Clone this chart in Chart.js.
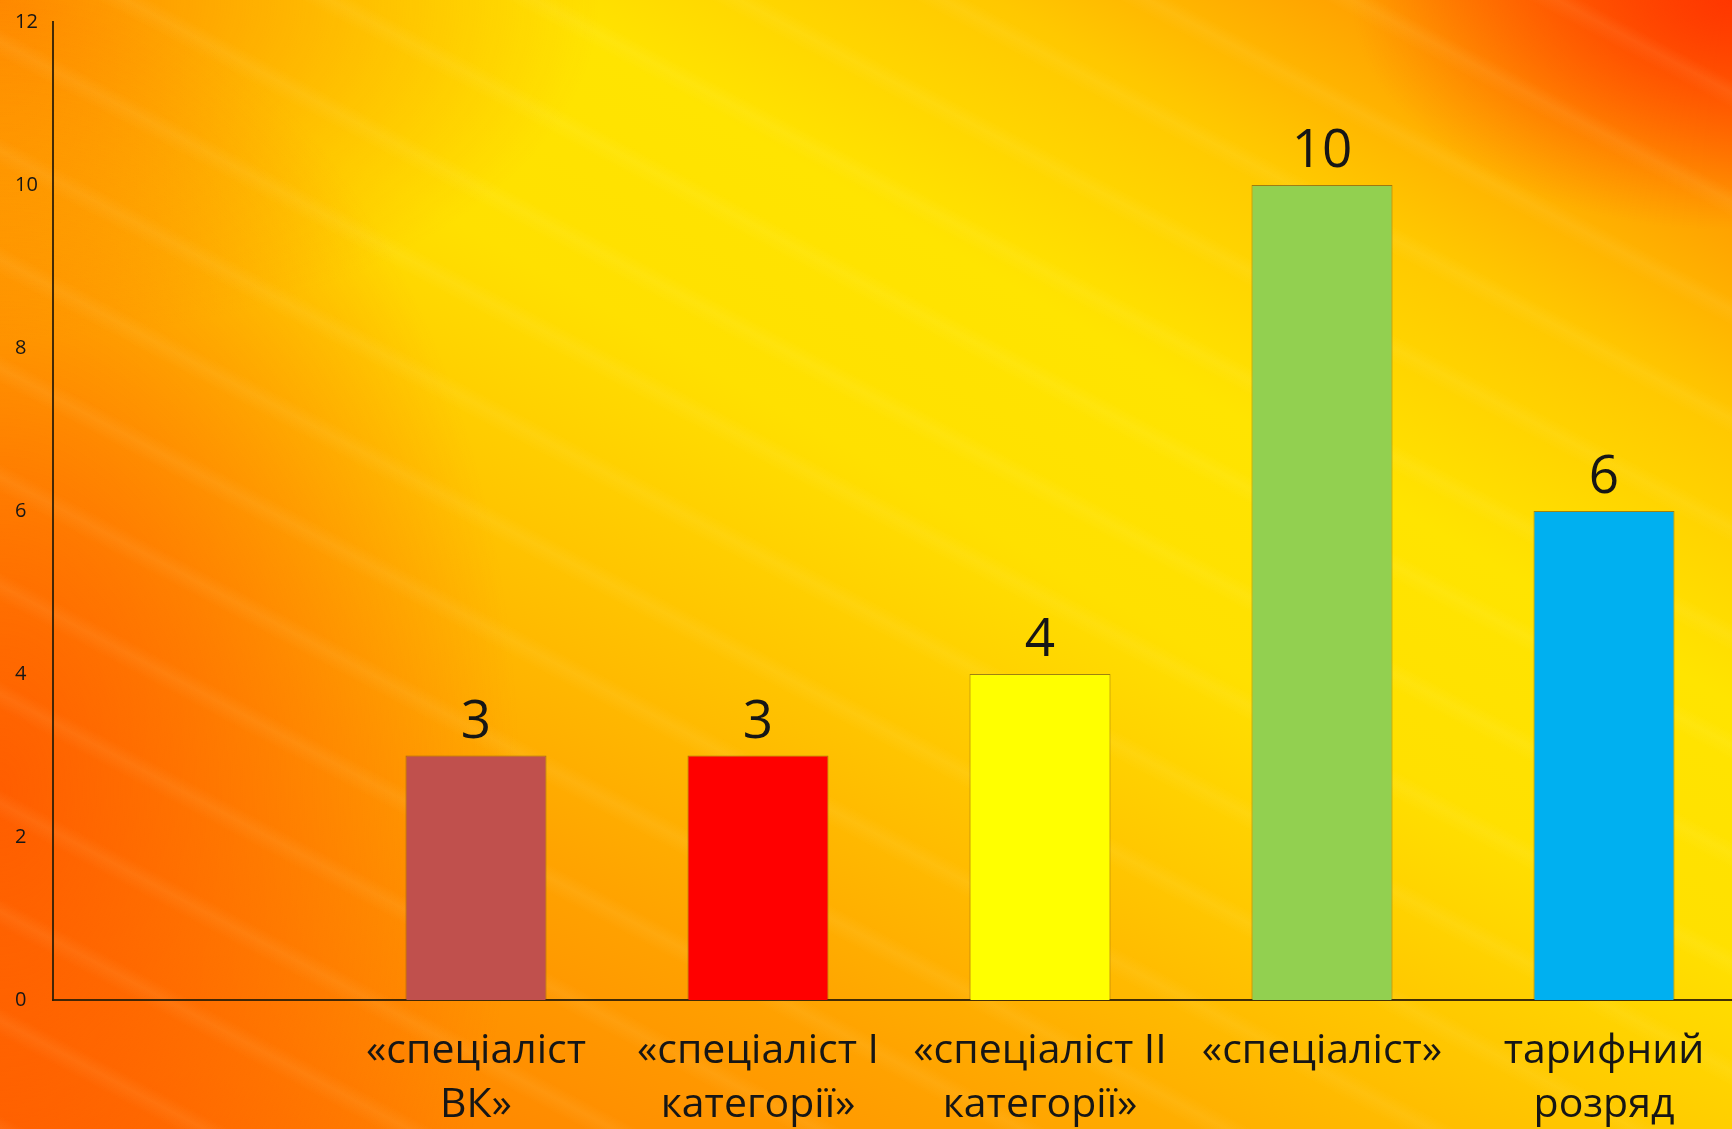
<!DOCTYPE html>
<html lang="uk">
<head>
<meta charset="utf-8">
<title>Кваліфікаційні категорії</title>
<script src="https://cdn.jsdelivr.net/npm/chart.js@4/dist/chart.umd.min.js"></script>
<style>
  html, body {
    margin: 0;
    width: 1732px;
    height: 1129px;
    overflow: hidden;
  }
  body {
    background:
      repeating-linear-gradient(208deg, rgba(255,255,200,0) 0px, rgba(255,255,200,0) 70px, rgba(255,250,190,0.07) 82px, rgba(255,255,200,0) 96px),
      radial-gradient(ellipse 520px 820px at 0% 70%, rgba(255,85,0,0.85), rgba(255,85,0,0) 100%),
      radial-gradient(ellipse 380px 230px at 100% 0%, rgba(255,50,0,0.9), rgba(255,50,0,0) 100%),
      radial-gradient(ellipse 600px 340px at 0% 0%, rgba(255,110,0,0.75), rgba(255,110,0,0) 100%),
      linear-gradient(210deg, #ff6000 0%, #ffa000 10%, #ffc800 20%, #ffe400 33%, #ffe000 45%, #ffc400 58%, #ffa400 72%, #ff8a00 86%, #ff6c00 100%);
  }
  .wrap {
    position: absolute;
    left: 0;
    top: 0;
    width: 1745px;
    height: 1129px;
  }
</style>
</head>
<body>
<div class="wrap"><canvas id="chart"></canvas></div>
<script>
// категорії (перша порожня, як на слайді)
const categories = [
  '',
  ['«спеціаліст', 'ВК»'],
  ['«спеціаліст І', 'категорії»'],
  ['«спеціаліст ІІ', 'категорії»'],
  ['«спеціаліст»'],
  ['тарифний', 'розряд'],
];
const values    = [null, 3, 3, 4, 10, 6];
const barColors = ['#ffffff', '#c0504d', '#ff0000', '#ffff00', '#92d050', '#00b0f0'];
const yTicks    = [0, 2, 4, 6, 8, 10, 12];

const TEXT = '#161616';
const AXIS = 'rgba(45,30,5,0.9)';

// підписи значень над стовпцями
const valueLabels = {
  id: 'valueLabels',
  afterDatasetsDraw(chart) {
    const ctx  = chart.ctx;
    const meta = chart.getDatasetMeta(0);
    ctx.save();
    ctx.font         = '53px "Open Sans"';
    ctx.fillStyle    = TEXT;
    ctx.textAlign    = 'center';
    ctx.textBaseline = 'alphabetic';
    meta.data.forEach((bar, i) => {
      if (values[i] == null) return;
      ctx.fillText(String(values[i]), bar.x, bar.y - 18);
    });
    ctx.restore();
  },
};

new Chart(document.getElementById('chart'), {
  type: 'bar',
  data: {
    labels: categories,
    datasets: [{
      data:            values,
      backgroundColor: barColors,
      borderColor:     'rgba(80,60,30,0.55)',
      borderWidth:     1,
      categoryPercentage: 1,
      barPercentage:   0.5,
    }],
  },
  options: {
    responsive:          true,
    maintainAspectRatio: false,
    animation:           false,
    layout: { padding: { left: 15, top: 22, right: 0, bottom: 0 } },
    plugins: {
      legend:  { display: false },
      tooltip: { enabled: false },
    },
    scales: {
      x: {
        grid:   { display: false, drawTicks: false },
        border: { display: true, color: AXIS, width: 2 },
        ticks: {
          color: TEXT,
          padding: 24,
          maxRotation: 0,
          autoSkip: false,
          font: { family: '"Open Sans"', size: 41, lineHeight: 1.33 },
        },
        afterFit: (scale) => { scale.height = 129; },
      },
      y: {
        min: 0,
        max: 12,
        afterBuildTicks: (scale) => { scale.ticks = yTicks.map((v) => ({ value: v })); },
        grid:   { display: false, drawTicks: false },
        border: { display: true, color: AXIS, width: 2 },
        ticks: {
          color: TEXT,
          crossAlign: 'far',
          padding: 0,
          font: { family: '"Open Sans"', size: 20 },
        },
        afterFit: (scale) => { scale.width = 38; },
      },
    },
  },
  plugins: [valueLabels],
});
</script>
</body>
</html>
